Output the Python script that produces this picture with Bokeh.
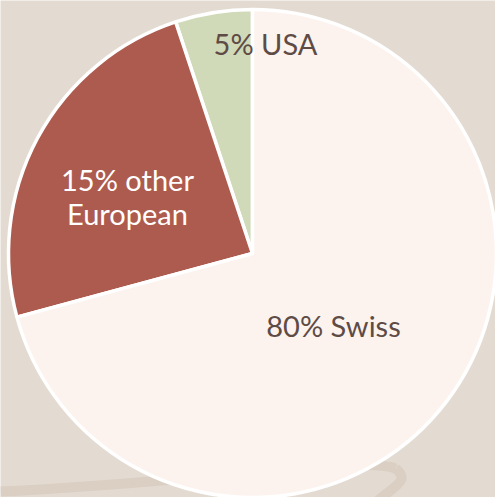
import math
from bokeh.plotting import figure
from bokeh.models import Range1d, ColumnDataSource
from bokeh.core.properties import value
from bokeh.embed import file_html
from bokeh.resources import INLINE

# Data (slice shares as drawn in the picture; labels as printed)
categories = ["USA", "other European", "Swiss"]
shares = [5.1, 24.1, 70.8]
labels = ["5% USA", "15% other\nEuropean", "80% Swiss"]
colors = ["#D0D9B8", "#AD5B4E", "#FCF3EE"]
text_colors = ["#5E4B46", "#FFFFFF", "#5E4B46"]

W, H = 495, 497
cx, cy, R = 252, H - 253, 244

p = figure(width=W, height=H, output_backend="svg", toolbar_location=None,
           x_range=Range1d(0, W), y_range=Range1d(0, H), min_border=0)
p.axis.visible = False
p.grid.visible = False
p.outline_line_color = None
p.background_fill_color = "#E3DBD2"
p.border_fill_color = "#E3DBD2"

# decorative swoosh in background
p.bezier(x0=[0], y0=[H - 491], x1=[395], y1=[H - 468], cx0=[200], cy0=[H - 482],
         cx1=[360], cy1=[H - 455], line_color="#DBCFC3", line_width=10)
p.bezier(x0=[395], y0=[H - 468], x1=[375], y1=[H - 502], cx0=[410], cy0=[H - 480],
         cx1=[395], cy1=[H - 485], line_color="#DBCFC3", line_width=10)

total = sum(shares)
starts, ends = [], []
a = math.pi / 2
for s in shares:
    starts.append(a)
    a += s / total * 2 * math.pi
    ends.append(a)

src = ColumnDataSource(dict(cat=categories, start=starts, end=ends, color=colors))
p.wedge(x=cx, y=cy, radius=R, start_angle="start", end_angle="end",
        direction="anticlock", fill_color="color", line_color="#FFFFFF",
        line_width=3.5, source=src)

# label positions (pixel-space)
lx = [265, 127, 333]
ly = [43, 196, 325]
for t, x, y, c in zip(labels, lx, ly, text_colors):
    lines = t.split("\n")
    n = len(lines)
    for i, ln in enumerate(lines):
        yy = y + (i - (n - 1) / 2) * 34
        p.text(x=[x], y=[H - yy], text=[ln], text_align="center",
               text_baseline="middle", text_color=c,
               text_font=value("Lato"), text_font_size="29px")

open("out.html", "w").write(file_html(p, INLINE))
